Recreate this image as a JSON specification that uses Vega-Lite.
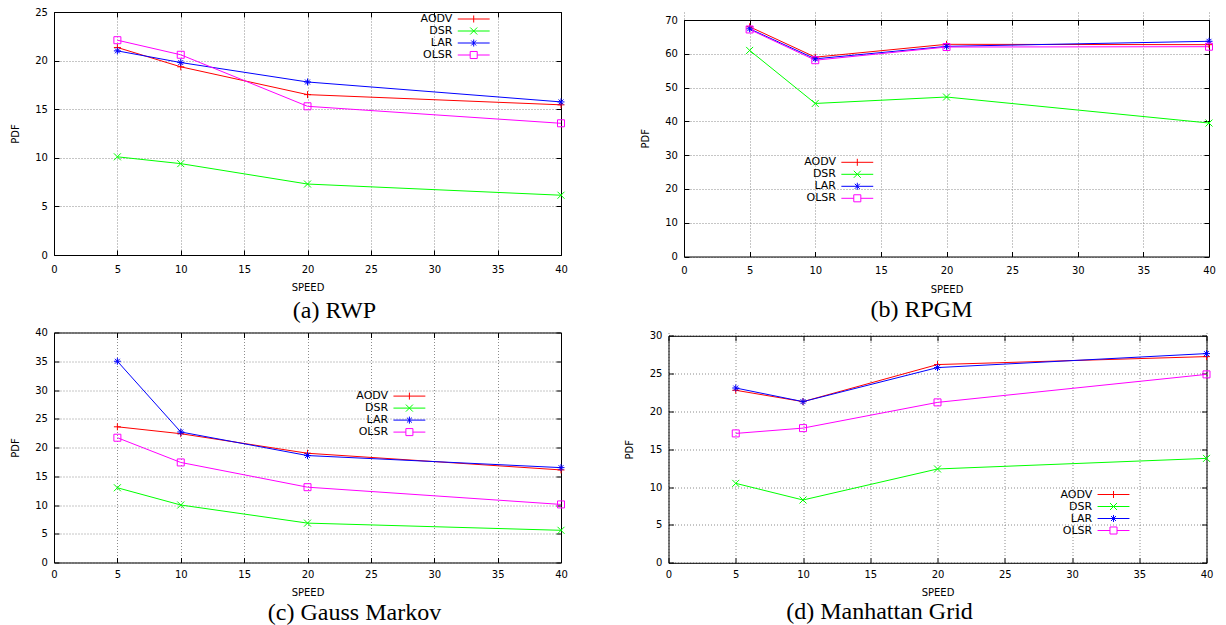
{
  "$schema": "https://vega.github.io/schema/vega-lite/v6.json",
  "autosize": {"type": "pad"},
  "padding": {"left": 10, "top": 7, "right": 0, "bottom": 0},
  "background": "white",
  "datasets": {
    "pdf": [
      {"panel": "a", "series": "AODV", "speed": 5, "pdf": 21.35},
      {"panel": "a", "series": "AODV", "speed": 10, "pdf": 19.36},
      {"panel": "a", "series": "AODV", "speed": 20, "pdf": 16.5},
      {"panel": "a", "series": "AODV", "speed": 40, "pdf": 15.45},
      {"panel": "a", "series": "DSR", "speed": 5, "pdf": 10.1},
      {"panel": "a", "series": "DSR", "speed": 10, "pdf": 9.4},
      {"panel": "a", "series": "DSR", "speed": 20, "pdf": 7.3},
      {"panel": "a", "series": "DSR", "speed": 40, "pdf": 6.15},
      {"panel": "a", "series": "LAR", "speed": 5, "pdf": 21.0},
      {"panel": "a", "series": "LAR", "speed": 10, "pdf": 19.8},
      {"panel": "a", "series": "LAR", "speed": 20, "pdf": 17.8},
      {"panel": "a", "series": "LAR", "speed": 40, "pdf": 15.75},
      {"panel": "a", "series": "OLSR", "speed": 5, "pdf": 22.1},
      {"panel": "a", "series": "OLSR", "speed": 10, "pdf": 20.6},
      {"panel": "a", "series": "OLSR", "speed": 20, "pdf": 15.3},
      {"panel": "a", "series": "OLSR", "speed": 40, "pdf": 13.55},
      {"panel": "b", "series": "AODV", "speed": 5, "pdf": 68.0},
      {"panel": "b", "series": "AODV", "speed": 10, "pdf": 59.0},
      {"panel": "b", "series": "AODV", "speed": 20, "pdf": 62.8},
      {"panel": "b", "series": "AODV", "speed": 40, "pdf": 62.7},
      {"panel": "b", "series": "DSR", "speed": 5, "pdf": 61.0},
      {"panel": "b", "series": "DSR", "speed": 10, "pdf": 45.3},
      {"panel": "b", "series": "DSR", "speed": 20, "pdf": 47.2},
      {"panel": "b", "series": "DSR", "speed": 40, "pdf": 39.5},
      {"panel": "b", "series": "LAR", "speed": 5, "pdf": 67.4},
      {"panel": "b", "series": "LAR", "speed": 10, "pdf": 58.5},
      {"panel": "b", "series": "LAR", "speed": 20, "pdf": 62.2},
      {"panel": "b", "series": "LAR", "speed": 40, "pdf": 63.7},
      {"panel": "b", "series": "OLSR", "speed": 5, "pdf": 67.2},
      {"panel": "b", "series": "OLSR", "speed": 10, "pdf": 58.1},
      {"panel": "b", "series": "OLSR", "speed": 20, "pdf": 62.0},
      {"panel": "b", "series": "OLSR", "speed": 40, "pdf": 62.1},
      {"panel": "c", "series": "AODV", "speed": 5, "pdf": 23.6},
      {"panel": "c", "series": "AODV", "speed": 10, "pdf": 22.4},
      {"panel": "c", "series": "AODV", "speed": 20, "pdf": 19.0},
      {"panel": "c", "series": "AODV", "speed": 40, "pdf": 16.1},
      {"panel": "c", "series": "DSR", "speed": 5, "pdf": 13.0},
      {"panel": "c", "series": "DSR", "speed": 10, "pdf": 10.0},
      {"panel": "c", "series": "DSR", "speed": 20, "pdf": 6.85},
      {"panel": "c", "series": "DSR", "speed": 40, "pdf": 5.6},
      {"panel": "c", "series": "LAR", "speed": 5, "pdf": 35.0},
      {"panel": "c", "series": "LAR", "speed": 10, "pdf": 22.7},
      {"panel": "c", "series": "LAR", "speed": 20, "pdf": 18.6},
      {"panel": "c", "series": "LAR", "speed": 40, "pdf": 16.5},
      {"panel": "c", "series": "OLSR", "speed": 5, "pdf": 21.7},
      {"panel": "c", "series": "OLSR", "speed": 10, "pdf": 17.4},
      {"panel": "c", "series": "OLSR", "speed": 20, "pdf": 13.1},
      {"panel": "c", "series": "OLSR", "speed": 40, "pdf": 10.1},
      {"panel": "d", "series": "AODV", "speed": 5, "pdf": 22.8},
      {"panel": "d", "series": "AODV", "speed": 10, "pdf": 21.3},
      {"panel": "d", "series": "AODV", "speed": 20, "pdf": 26.2},
      {"panel": "d", "series": "AODV", "speed": 40, "pdf": 27.25},
      {"panel": "d", "series": "DSR", "speed": 5, "pdf": 10.5},
      {"panel": "d", "series": "DSR", "speed": 10, "pdf": 8.3},
      {"panel": "d", "series": "DSR", "speed": 20, "pdf": 12.4},
      {"panel": "d", "series": "DSR", "speed": 40, "pdf": 13.8},
      {"panel": "d", "series": "LAR", "speed": 5, "pdf": 23.1},
      {"panel": "d", "series": "LAR", "speed": 10, "pdf": 21.3},
      {"panel": "d", "series": "LAR", "speed": 20, "pdf": 25.8},
      {"panel": "d", "series": "LAR", "speed": 40, "pdf": 27.65},
      {"panel": "d", "series": "OLSR", "speed": 5, "pdf": 17.1},
      {"panel": "d", "series": "OLSR", "speed": 10, "pdf": 17.8},
      {"panel": "d", "series": "OLSR", "speed": 20, "pdf": 21.2},
      {"panel": "d", "series": "OLSR", "speed": 40, "pdf": 24.9}
    ]
  },
  "data": {"name": "pdf"},
  "spacing": 4.5,
  "vconcat": [
    {
      "spacing": 63,
      "hconcat": [
        {
          "width": 507, "height": 243,
          "title": {"text": "(a) RWP", "dx": 27, "offset": 6},
          "transform": [{"filter": "datum.panel === 'a'"}],
          "layer": [
            {"mark": {"type": "line", "strokeWidth": 1},
             "encoding": {
               "x": {"field": "speed", "type": "quantitative", "scale": {"domain": [0, 40], "nice": false}, "axis": {"title": "SPEED", "values": [0,5,10,15,20,25,30,35,40], "tickSize": -5, "labelPadding": 14, "minExtent": 24, "maxExtent": 24, "titlePadding": 3.5, "grid": true, "labelFlush": false}},
               "y": {"field": "pdf", "type": "quantitative", "scale": {"domain": [0, 25], "nice": false}, "axis": {"title": "PDF", "values": [0,5,10,15,20,25], "tickSize": -5, "labelPadding": 11.6, "minExtent": 30, "maxExtent": 30, "titlePadding": 4, "grid": true, "labelFlush": false}},
               "stroke": {"field": "series", "type": "nominal", "scale": {"domain": ["AODV","DSR","LAR","OLSR"], "range": ["#ff0000","#00ff00","#0000ff","#ff00ff"]}, "legend": null}
             }},
            {"mark": {"type": "point", "filled": false, "size": 49, "strokeWidth": 1, "opacity": 1},
             "encoding": {
               "x": {"field": "speed", "type": "quantitative", "axis": {"orient": "top", "labels": false, "title": null, "grid": false, "tickSize": -5, "minExtent": 0, "maxExtent": 0, "values": [0,5,10,15,20,25,30,35,40]}},
               "y": {"field": "pdf", "type": "quantitative", "axis": {"orient": "right", "labels": false, "title": null, "grid": false, "tickSize": -5, "minExtent": 0, "maxExtent": 0, "values": [0,5,10,15,20,25]}},
               "stroke": {"field": "series", "type": "nominal", "legend": null},
               "shape": {"field": "series", "type": "nominal", "scale": {"domain": ["AODV","DSR","LAR","OLSR"], "range": ["M-1,0H1M0,-1V1", "M-1,-1L1,1M-1,1L1,-1", "M-1,0H1M0,-1V1M-0.7,-0.7L0.7,0.7M-0.7,0.7L0.7,-0.7", "M-1,-1H1V1H-1Z"]}, "legend": null}
             }},
            {"mark": {"type": "point", "filled": false, "size": 121, "strokeWidth": 1, "opacity": 0},
             "encoding": {
               "x": {"field": "speed", "type": "quantitative", "axis": null},
               "y": {"field": "pdf", "type": "quantitative", "axis": null},
               "color": {"field": "series", "type": "nominal", "scale": {"domain": ["AODV","DSR","LAR","OLSR"], "range": ["#ff0000","#00ff00","#0000ff","#ff00ff"]},
                 "legend": {"orient": "none", "legendX": 413.7, "legendY": 1, "title": null, "labelAlign": "right", "labelOffset": -27.3, "labelFont": "DejaVu Sans", "labelFontSize": 11, "labelColor": "#000", "rowPadding": 0, "padding": 0, "symbolSize": 121, "symbolStrokeWidth": 1, "symbolFillColor": "transparent", "symbolOpacity": 1, "symbolOffset": 0}},
               "shape": {"field": "series", "type": "nominal", "scale": {"domain": ["AODV","DSR","LAR","OLSR"], "range": ["M-2.9,0H2.9M0,-0.64V0.64", "M-2.9,0H2.9M-0.64,-0.64L0.64,0.64M-0.64,0.64L0.64,-0.64", "M-2.9,0H2.9M0,-0.64V0.64M-0.45,-0.45L0.45,0.45M-0.45,0.45L0.45,-0.45", "M-2.9,0H-0.64M0.64,0H2.9M-0.64,-0.64H0.64V0.64H-0.64Z"]}}
             }}
          ],
          "resolve": {"axis": {"x": "independent", "y": "independent"}, "scale": {"shape": "independent", "color": "independent"}}
        },
        {
          "width": 525, "height": 244.5,
          "title": {"text": "(b) RPGM", "dx": -25, "offset": 4},
          "transform": [{"filter": "datum.panel === 'b'"}],
          "layer": [
            {"mark": {"type": "line", "strokeWidth": 1},
             "encoding": {
               "x": {"field": "speed", "type": "quantitative", "scale": {"domain": [0, 40], "nice": false}, "axis": {"title": "SPEED", "values": [0,5,10,15,20,25,30,35,40], "tickSize": -5, "labelPadding": 14, "minExtent": 24, "maxExtent": 24, "titlePadding": 3.5, "grid": true, "labelFlush": false}},
               "y": {"field": "pdf", "type": "quantitative", "scale": {"domain": [0, 70], "nice": false, "range": [244.5, 8]}, "axis": {"title": "PDF", "values": [0,10,20,30,40,50,60,70], "tickSize": -5, "labelPadding": 11.6, "minExtent": 30, "maxExtent": 30, "titlePadding": 4, "grid": true, "labelFlush": false}},
               "stroke": {"field": "series", "type": "nominal", "scale": {"domain": ["AODV","DSR","LAR","OLSR"], "range": ["#ff0000","#00ff00","#0000ff","#ff00ff"]}, "legend": null}
             }},
            {"mark": {"type": "point", "filled": false, "size": 49, "strokeWidth": 1, "opacity": 1},
             "encoding": {
               "x": {"field": "speed", "type": "quantitative", "axis": {"orient": "top", "offset": -8, "labels": false, "title": null, "grid": false, "tickSize": -5, "minExtent": 0, "maxExtent": 0, "values": [0,5,10,15,20,25,30,35,40]}},
               "y": {"field": "pdf", "type": "quantitative", "axis": {"orient": "right", "labels": false, "title": null, "grid": false, "tickSize": -5, "minExtent": 0, "maxExtent": 0, "values": [0,10,20,30,40,50,60,70]}},
               "stroke": {"field": "series", "type": "nominal", "legend": null},
               "shape": {"field": "series", "type": "nominal", "scale": {"domain": ["AODV","DSR","LAR","OLSR"], "range": ["M-1,0H1M0,-1V1", "M-1,-1L1,1M-1,1L1,-1", "M-1,0H1M0,-1V1M-0.7,-0.7L0.7,0.7M-0.7,0.7L0.7,-0.7", "M-1,-1H1V1H-1Z"]}, "legend": null}
             }},
            {"mark": {"type": "point", "filled": false, "size": 121, "strokeWidth": 1, "opacity": 0},
             "encoding": {
               "x": {"field": "speed", "type": "quantitative", "axis": null},
               "y": {"field": "pdf", "type": "quantitative", "axis": null},
               "color": {"field": "series", "type": "nominal", "scale": {"domain": ["AODV","DSR","LAR","OLSR"], "range": ["#ff0000","#00ff00","#0000ff","#ff00ff"]},
                 "legend": {"orient": "none", "legendX": 167.3, "legendY": 144.3, "title": null, "labelAlign": "right", "labelOffset": -27.3, "labelFont": "DejaVu Sans", "labelFontSize": 11, "labelColor": "#000", "rowPadding": 0, "padding": 0, "symbolSize": 121, "symbolStrokeWidth": 1, "symbolFillColor": "transparent", "symbolOpacity": 1, "symbolOffset": 0}},
               "shape": {"field": "series", "type": "nominal", "scale": {"domain": ["AODV","DSR","LAR","OLSR"], "range": ["M-2.9,0H2.9M0,-0.64V0.64", "M-2.9,0H2.9M-0.64,-0.64L0.64,0.64M-0.64,0.64L0.64,-0.64", "M-2.9,0H2.9M0,-0.64V0.64M-0.45,-0.45L0.45,0.45M-0.45,0.45L0.45,-0.45", "M-2.9,0H-0.64M0.64,0H2.9M-0.64,-0.64H0.64V0.64H-0.64Z"]}}
             }}
          ],
          "resolve": {"axis": {"x": "independent", "y": "independent"}, "scale": {"shape": "independent", "color": "independent"}}
        }
      ]
    },
    {
      "spacing": 47.5,
      "hconcat": [
        {
          "width": 507, "height": 230,
          "title": {"text": "(c) Gauss Markov", "dx": 47, "offset": 4},
          "transform": [{"filter": "datum.panel === 'c'"}],
          "layer": [
            {"mark": {"type": "line", "strokeWidth": 1},
             "encoding": {
               "x": {"field": "speed", "type": "quantitative", "scale": {"domain": [0, 40], "nice": false}, "axis": {"title": "SPEED", "values": [0,5,10,15,20,25,30,35,40], "tickSize": -5, "labelPadding": 11.8, "minExtent": 24, "maxExtent": 24, "titlePadding": 0.5, "grid": true, "labelFlush": false}},
               "y": {"field": "pdf", "type": "quantitative", "scale": {"domain": [0, 40], "nice": false}, "axis": {"title": "PDF", "values": [0,5,10,15,20,25,30,35,40], "tickSize": -5, "labelPadding": 11.6, "minExtent": 30, "maxExtent": 30, "titlePadding": 4, "grid": true, "labelFlush": false}},
               "stroke": {"field": "series", "type": "nominal", "scale": {"domain": ["AODV","DSR","LAR","OLSR"], "range": ["#ff0000","#00ff00","#0000ff","#ff00ff"]}, "legend": null}
             }},
            {"mark": {"type": "point", "filled": false, "size": 49, "strokeWidth": 1, "opacity": 1},
             "encoding": {
               "x": {"field": "speed", "type": "quantitative", "axis": {"orient": "top", "labels": false, "title": null, "grid": false, "tickSize": -5, "minExtent": 0, "maxExtent": 0, "values": [0,5,10,15,20,25,30,35,40]}},
               "y": {"field": "pdf", "type": "quantitative", "axis": {"orient": "right", "labels": false, "title": null, "grid": false, "tickSize": -5, "minExtent": 0, "maxExtent": 0, "values": [0,5,10,15,20,25,30,35,40]}},
               "stroke": {"field": "series", "type": "nominal", "legend": null},
               "shape": {"field": "series", "type": "nominal", "scale": {"domain": ["AODV","DSR","LAR","OLSR"], "range": ["M-1,0H1M0,-1V1", "M-1,-1L1,1M-1,1L1,-1", "M-1,0H1M0,-1V1M-0.7,-0.7L0.7,0.7M-0.7,0.7L0.7,-0.7", "M-1,-1H1V1H-1Z"]}, "legend": null}
             }},
            {"mark": {"type": "point", "filled": false, "size": 121, "strokeWidth": 1, "opacity": 0},
             "encoding": {
               "x": {"field": "speed", "type": "quantitative", "axis": null},
               "y": {"field": "pdf", "type": "quantitative", "axis": null},
               "color": {"field": "series", "type": "nominal", "scale": {"domain": ["AODV","DSR","LAR","OLSR"], "range": ["#ff0000","#00ff00","#0000ff","#ff00ff"]},
                 "legend": {"orient": "none", "legendX": 349.4, "legendY": 57.6, "title": null, "labelAlign": "right", "labelOffset": -27.3, "labelFont": "DejaVu Sans", "labelFontSize": 11, "labelColor": "#000", "rowPadding": 0, "padding": 0, "symbolSize": 121, "symbolStrokeWidth": 1, "symbolFillColor": "transparent", "symbolOpacity": 1, "symbolOffset": 0}},
               "shape": {"field": "series", "type": "nominal", "scale": {"domain": ["AODV","DSR","LAR","OLSR"], "range": ["M-2.9,0H2.9M0,-0.64V0.64", "M-2.9,0H2.9M-0.64,-0.64L0.64,0.64M-0.64,0.64L0.64,-0.64", "M-2.9,0H2.9M0,-0.64V0.64M-0.45,-0.45L0.45,0.45M-0.45,0.45L0.45,-0.45", "M-2.9,0H-0.64M0.64,0H2.9M-0.64,-0.64H0.64V0.64H-0.64Z"]}}
             }}
          ],
          "resolve": {"axis": {"x": "independent", "y": "independent"}, "scale": {"shape": "independent", "color": "independent"}}
        },
        {
          "width": 538, "height": 230.3,
          "title": {"text": "(d) Manhattan Grid", "dx": -58, "offset": 2.2},
          "transform": [{"filter": "datum.panel === 'd'"}],
          "layer": [
            {"mark": {"type": "line", "strokeWidth": 1},
             "encoding": {
               "x": {"field": "speed", "type": "quantitative", "scale": {"domain": [0, 40], "nice": false}, "axis": {"title": "SPEED", "values": [0,5,10,15,20,25,30,35,40], "tickSize": -5, "labelPadding": 11.8, "minExtent": 24, "maxExtent": 24, "titlePadding": 0.5, "grid": true, "labelFlush": false}},
               "y": {"field": "pdf", "type": "quantitative", "scale": {"domain": [0, 30], "nice": false, "range": [230.3, 3.3]}, "axis": {"title": "PDF", "values": [0,5,10,15,20,25,30], "tickSize": -5, "labelPadding": 11.6, "minExtent": 30, "maxExtent": 30, "titlePadding": 4, "grid": true, "labelFlush": false}},
               "stroke": {"field": "series", "type": "nominal", "scale": {"domain": ["AODV","DSR","LAR","OLSR"], "range": ["#ff0000","#00ff00","#0000ff","#ff00ff"]}, "legend": null}
             }},
            {"mark": {"type": "point", "filled": false, "size": 49, "strokeWidth": 1, "opacity": 1},
             "encoding": {
               "x": {"field": "speed", "type": "quantitative", "axis": {"orient": "top", "offset": -3.3, "labels": false, "title": null, "grid": false, "tickSize": -5, "minExtent": 0, "maxExtent": 0, "values": [0,5,10,15,20,25,30,35,40]}},
               "y": {"field": "pdf", "type": "quantitative", "axis": {"orient": "right", "labels": false, "title": null, "grid": false, "tickSize": -5, "minExtent": 0, "maxExtent": 0, "values": [0,5,10,15,20,25,30]}},
               "stroke": {"field": "series", "type": "nominal", "legend": null},
               "shape": {"field": "series", "type": "nominal", "scale": {"domain": ["AODV","DSR","LAR","OLSR"], "range": ["M-1,0H1M0,-1V1", "M-1,-1L1,1M-1,1L1,-1", "M-1,0H1M0,-1V1M-0.7,-0.7L0.7,0.7M-0.7,0.7L0.7,-0.7", "M-1,-1H1V1H-1Z"]}, "legend": null}
             }},
            {"mark": {"type": "point", "filled": false, "size": 121, "strokeWidth": 1, "opacity": 0},
             "encoding": {
               "x": {"field": "speed", "type": "quantitative", "axis": null},
               "y": {"field": "pdf", "type": "quantitative", "axis": null},
               "color": {"field": "series", "type": "nominal", "scale": {"domain": ["AODV","DSR","LAR","OLSR"], "range": ["#ff0000","#00ff00","#0000ff","#ff00ff"]},
                 "legend": {"orient": "none", "legendX": 439, "legendY": 156, "title": null, "labelAlign": "right", "labelOffset": -27.3, "labelFont": "DejaVu Sans", "labelFontSize": 11, "labelColor": "#000", "rowPadding": 0, "padding": 0, "symbolSize": 121, "symbolStrokeWidth": 1, "symbolFillColor": "transparent", "symbolOpacity": 1, "symbolOffset": 0}},
               "shape": {"field": "series", "type": "nominal", "scale": {"domain": ["AODV","DSR","LAR","OLSR"], "range": ["M-2.9,0H2.9M0,-0.64V0.64", "M-2.9,0H2.9M-0.64,-0.64L0.64,0.64M-0.64,0.64L0.64,-0.64", "M-2.9,0H2.9M0,-0.64V0.64M-0.45,-0.45L0.45,0.45M-0.45,0.45L0.45,-0.45", "M-2.9,0H-0.64M0.64,0H2.9M-0.64,-0.64H0.64V0.64H-0.64Z"]}}
             }}
          ],
          "resolve": {"axis": {"x": "independent", "y": "independent"}, "scale": {"shape": "independent", "color": "independent"}}
        }
      ]
    }
  ],
  "config": {
    "view": {"stroke": null},
    "axis": {"domainColor": "#000", "domainWidth": 1, "tickColor": "#000", "tickWidth": 1, "labelFont": "DejaVu Sans", "labelFontSize": 10, "labelColor": "#000", "titleFont": "DejaVu Sans", "titleFontSize": 10, "titleFontWeight": "normal", "titleColor": "#000", "gridColor": "#8c8c8c", "gridDash": [1, 2], "gridWidth": 1, "labelOverlap": false},
    "title": {"font": "Liberation Serif", "fontSize": 24, "fontWeight": "normal", "color": "#000", "orient": "bottom", "anchor": "middle"}
  }
}
